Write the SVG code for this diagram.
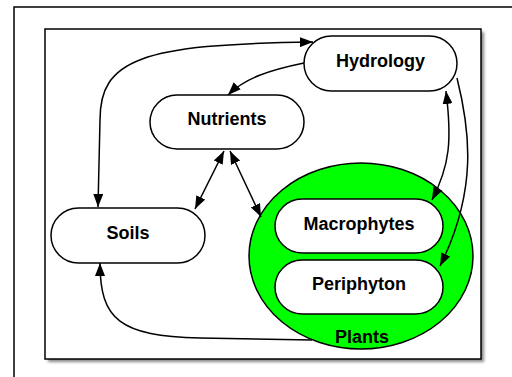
<svg xmlns="http://www.w3.org/2000/svg" width="512" height="377" viewBox="0 0 512 377">
<style>
.node{fill:#fff;stroke:#000;stroke-width:1.5}
.lbl{font-family:"Liberation Sans",Arial,sans-serif;font-weight:bold;font-size:18px;fill:#000;text-anchor:middle}
.conn{fill:none;stroke:#000;stroke-width:1.5}
</style>
<defs>
<marker id="ah" viewBox="0 0 13 10" refX="13" refY="5" markerWidth="13" markerHeight="10" markerUnits="userSpaceOnUse" orient="auto-start-reverse">
<path d="M0,0 L13,5 L0,10 Z" fill="#000"/>
</marker>
<filter id="sh" x="-5%" y="-5%" width="115%" height="115%">
<feGaussianBlur stdDeviation="1.5"/>
</filter>
</defs>
<rect x="0" y="0" width="512" height="377" fill="#fff"/>
<rect x="14" y="7" width="520" height="400" fill="none" stroke="#000" stroke-width="1.5"/>
<rect x="48" y="32" width="436" height="330" fill="#888" filter="url(#sh)"/>
<rect x="45" y="29" width="436" height="330" fill="#fff" stroke="#000" stroke-width="1.5"/>
<g id="plants">
<ellipse cx="361" cy="256" rx="112" ry="93" fill="#00ff00" stroke="#000" stroke-width="1.5"/>
<text class="lbl" x="362" y="343">Plants</text>
</g>
<g id="connectors">
<path class="conn" d="M98,207 L100,120 C100,60 140,44 313,42" marker-start="url(#ah)" marker-end="url(#ah)"/>
<path class="conn" d="M304,63 C270,70 245,78 228,95" marker-end="url(#ah)"/>
<path class="conn" d="M224,151 L195,209" marker-start="url(#ah)" marker-end="url(#ah)"/>
<path class="conn" d="M230,151 L261,217" marker-start="url(#ah)" marker-end="url(#ah)"/>
<path class="conn" d="M446,91 C452,140 450,165 432,200" marker-start="url(#ah)" marker-end="url(#ah)"/>
<path class="conn" d="M457,78 C470,130 478,190 440,266" marker-end="url(#ah)"/>
<path class="conn" d="M312,340 L200,338 C120,336 100,320 100,263" marker-end="url(#ah)"/>
</g>
<g id="hydrology">
<rect class="node" x="304" y="36" width="153" height="55" rx="27.5"/>
<text class="lbl" x="380.5" y="67">Hydrology</text>
</g>
<g id="nutrients">
<rect class="node" x="150" y="95" width="154" height="54" rx="27"/>
<text class="lbl" x="227" y="125">Nutrients</text>
</g>
<g id="soils">
<rect class="node" x="51" y="208" width="154" height="55" rx="27.5"/>
<text class="lbl" x="128" y="239">Soils</text>
</g>
<g id="macrophytes">
<rect class="node" x="275" y="199" width="168" height="54" rx="27"/>
<text class="lbl" x="359" y="230">Macrophytes</text>
</g>
<g id="periphyton">
<rect class="node" x="275" y="260" width="168" height="54" rx="27"/>
<text class="lbl" x="359" y="290">Periphyton</text>
</g>
</svg>
